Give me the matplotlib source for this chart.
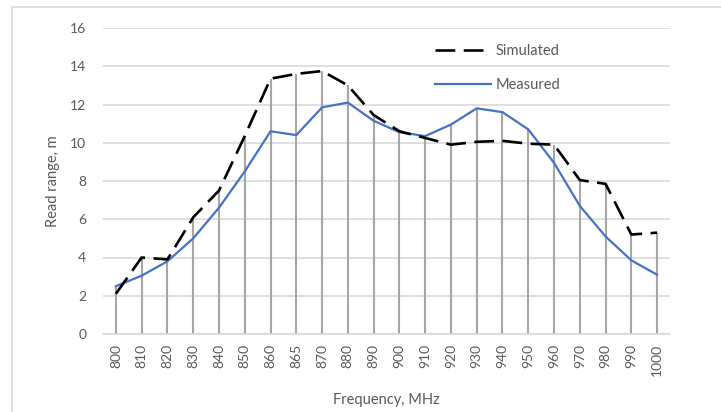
import matplotlib as mpl
mpl.use('Agg')
import matplotlib.pyplot as plt
from matplotlib.patches import Rectangle
import numpy as np

plt.rcParams['font.family'] = ['Lato', 'DejaVu Sans']

freqs = ['800', '810', '820', '830', '840', '850', '860', '865', '870', '880', '890',
         '900', '910', '920', '930', '940', '950', '960', '970', '980', '990', '1000']
simulated = [2.1, 4.0, 3.9, 6.1, 7.5, 10.35, 13.35, 13.6, 13.75, 13.0, 11.45,
             10.6, 10.25, 9.9, 10.05, 10.1, 9.95, 9.9, 8.05, 7.85, 5.2, 5.3]
measured = [2.5, 3.05, 3.8, 5.0, 6.6, 8.5, 10.6, 10.4, 11.85, 12.1, 11.15,
            10.55, 10.35, 10.95, 11.8, 11.6, 10.7, 8.95, 6.7, 5.1, 3.85, 3.1]

grey = '#595959'
x = np.arange(len(freqs))

fig = plt.figure(figsize=(7.21, 4.12), dpi=100)
ax = fig.add_axes([103/721, 1-334/412, (670-103)/721, (334-28)/412])

# chart frame
fig.patches.append(Rectangle((12/721, -0.1), 1.0, 1-7/412+0.1, transform=fig.transFigure,
                             fill=False, edgecolor='#D9D9D9', lw=1.2))

top = np.maximum(simulated, measured)
ax.vlines(x, 0, top, color='#A6A6A6', lw=1.5, zorder=2)
ax.plot(x, simulated, color='black', lw=1.9, dashes=(7.5, 3.2), label='Simulated', zorder=4)
ax.plot(x, measured, color='#4472C4', lw=1.6, label='Measured', zorder=3)

ax.set_xlim(-0.5, len(freqs) - 0.5)
ax.set_ylim(0, 16)
ax.set_yticks(range(0, 17, 2))
ax.set_xticks(x)
ax.set_xticklabels(freqs, rotation=90)
ax.grid(axis='y', color='#D9D9D9', lw=1.2)
ax.set_axisbelow(True)
for s in ['top', 'right', 'left']:
    ax.spines[s].set_visible(False)
ax.spines['bottom'].set_color('#D9D9D9')
ax.spines['bottom'].set_linewidth(1.2)
ax.tick_params(axis='both', length=0, colors=grey, labelsize=10)
ax.tick_params(axis='y', pad=12)
ax.tick_params(axis='x', pad=7)

ax.set_xlabel('Frequency, MHz', color=grey, fontsize=10.5, labelpad=12)
ax.set_ylabel('Read range, m', color=grey, fontsize=10.5, labelpad=7)

leg = ax.legend(loc='upper left', bbox_to_anchor=(428/721, 1-37/412), bbox_transform=fig.transFigure,
                frameon=False, fontsize=10.5, handlelength=3.8, handletextpad=0.35,
                labelspacing=1.35, borderpad=0)
for t in leg.get_texts():
    t.set_color(grey)

fig.savefig('out.png', dpi=100)
